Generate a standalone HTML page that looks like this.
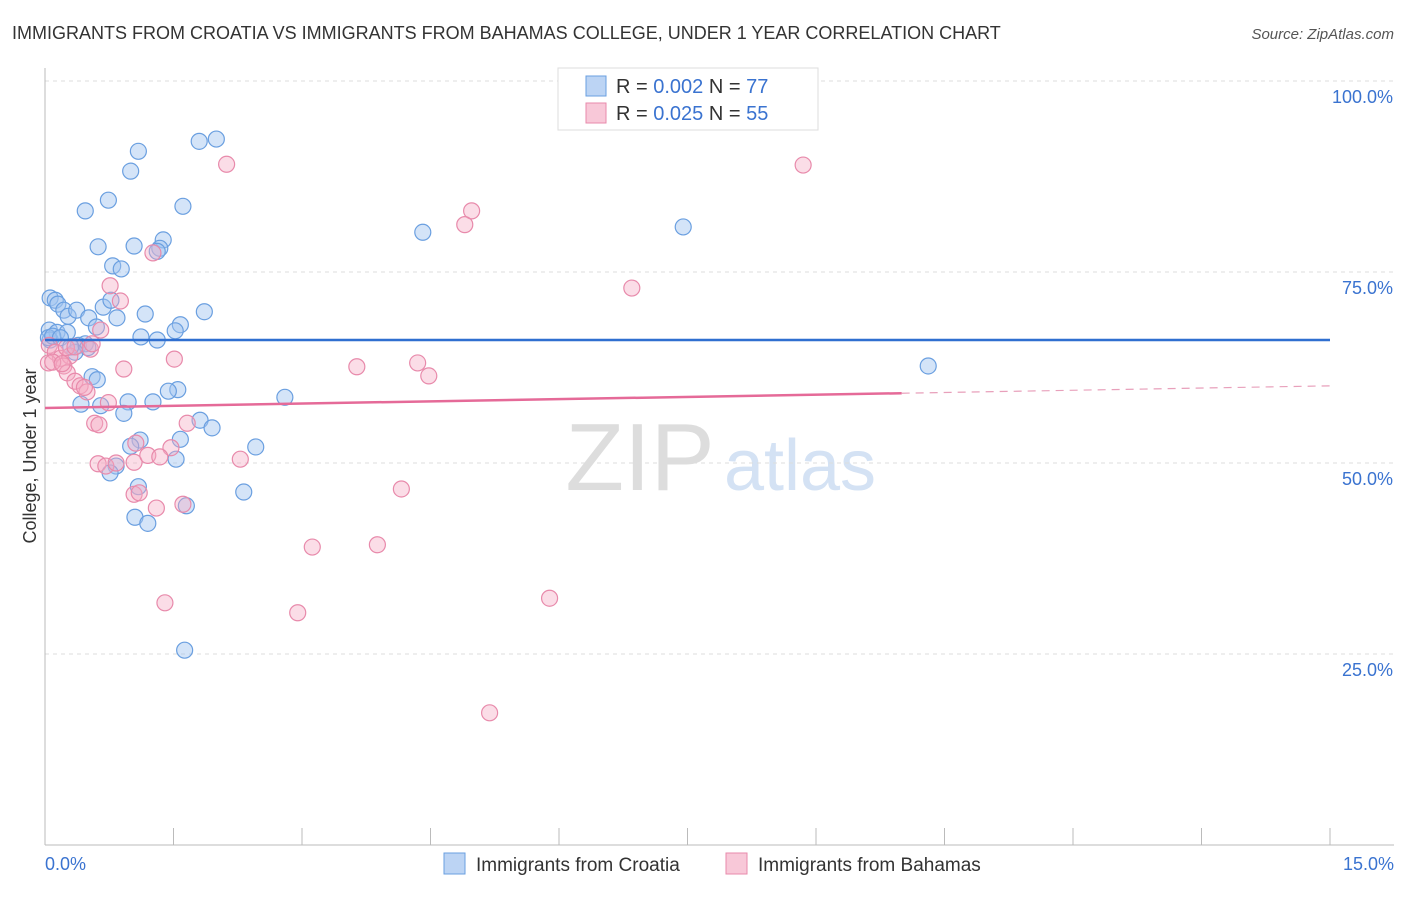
<!DOCTYPE html>
<html><head><meta charset="utf-8">
<style>
body{margin:0;background:#fff;font-family:"Liberation Sans",sans-serif;}
svg text{font-family:"Liberation Sans",sans-serif;}
</style></head>
<body>
<svg width="1406" height="892" xmlns="http://www.w3.org/2000/svg">
<text x="12" y="39" font-size="18" fill="#333">IMMIGRANTS FROM CROATIA VS IMMIGRANTS FROM BAHAMAS COLLEGE, UNDER 1 YEAR CORRELATION CHART</text>
<text x="1394" y="39" font-size="15" fill="#555" font-style="italic" text-anchor="end">Source: ZipAtlas.com</text>
<text x="640" y="490" font-size="96" fill="#ddd" font-family="Liberation Serif" text-anchor="middle">ZIP</text>
<text x="800" y="490" font-size="72" fill="#d4e2f4" text-anchor="middle">atlas</text>
<g id="grid"></g>
<g id="axes"></g>
<g id="points"></g>
<g id="lines"></g>
<text x="36" y="456" font-size="18" fill="#333" text-anchor="middle" transform="rotate(-90 36 456)">College, Under 1 year</text>
<text x="45" y="870" font-size="18" fill="#3a73d0">0.0%</text>
<text x="1394" y="870" font-size="18" fill="#3a73d0" text-anchor="end">15.0%</text>
<g>
<rect x="558" y="68" width="260" height="62" fill="#fff" stroke="#ddd"/>
<rect x="586" y="76" width="20" height="20" fill="#bcd4f4" stroke="#6a9fe0"/>
<text x="616" y="93" font-size="20" fill="#333">R = <tspan fill="#3a73d0">0.002</tspan>   N = <tspan fill="#3a73d0">77</tspan></text>
<rect x="586" y="103" width="20" height="20" fill="#f8c8d8" stroke="#e88aab"/>
<text x="616" y="120" font-size="20" fill="#333">R = <tspan fill="#3a73d0">0.025</tspan>   N = <tspan fill="#3a73d0">55</tspan></text>
</g>
<g>
<rect x="444" y="853" width="21" height="21" fill="#bcd4f4" stroke="#6a9fe0"/>
<text x="476" y="871" font-size="19" fill="#333">Immigrants from Croatia</text>
<rect x="726" y="853" width="21" height="21" fill="#f8c8d8" stroke="#e88aab"/>
<text x="758" y="871" font-size="19" fill="#333">Immigrants from Bahamas</text>
</g>
</svg>
<script>
const yTicks=[100,75,50,25];
const yTickLabels=["100.0%","75.0%","50.0%","25.0%"];
const xTicks=[0,1.5,3,4.5,6,7.5,9,10.5,12,13.5,15];
const croatiaX=[1.09,1.00,0.74,0.47,1.80,2.00,1.61,0.62,1.04,1.38,1.34,1.31,0.79,0.89,4.41,7.45,0.06,0.12,0.15,0.22,0.27,0.37,0.68,0.77,1.17,1.86,1.58,1.52,0.51,0.60,0.05,0.14,0.26,0.84,1.12,1.31,0.06,0.39,0.47,0.50,0.35,0.55,0.61,1.55,1.44,1.26,0.97,0.42,0.65,0.92,1.81,1.95,1.58,1.11,1.00,2.46,1.53,0.83,0.76,2.80,2.32,1.09,1.05,1.20,1.65,1.63,10.31,0.04,0.09,0.18,0.30];
const croatiaY=[90.8,88.2,84.4,83.0,92.1,92.4,83.6,78.3,78.4,79.2,78.1,77.7,75.8,75.4,80.2,80.9,71.6,71.3,70.8,70.0,69.2,70.0,70.4,71.3,69.5,69.8,68.1,67.3,69.0,67.8,67.4,67.1,67.1,69.0,66.5,66.1,66.1,65.4,65.6,65.1,64.5,61.3,60.9,59.6,59.4,58.0,58.0,57.7,57.5,56.5,55.6,54.6,53.1,53.0,52.2,52.1,50.5,49.6,48.7,58.6,46.2,46.9,42.9,42.1,44.4,25.5,62.7,66.4,66.6,66.4,65.2];
const bahamasX=[2.12,8.85,4.98,4.90,6.85,1.26,0.76,0.88,0.65,0.05,0.12,0.18,0.29,0.53,0.22,0.26,0.35,0.41,0.49,0.92,1.51,3.64,4.35,4.48,0.74,0.58,0.63,1.06,1.47,1.66,0.62,0.71,0.83,1.04,1.20,1.34,2.28,1.04,1.10,1.30,1.61,4.16,3.12,3.88,2.95,5.89,1.40,5.19,0.04,0.09,0.20,0.46,0.25,0.35,0.55];
const bahamasY=[89.1,89.0,83.0,81.2,72.9,77.5,73.2,71.2,67.4,65.4,64.5,63.7,64.0,64.9,62.7,61.8,60.7,60.1,59.3,62.3,63.6,62.6,63.1,61.4,57.9,55.2,55.0,52.6,52.0,55.2,49.9,49.6,50.0,50.1,51.0,50.8,50.5,45.9,46.1,44.1,44.6,46.6,39.0,39.3,30.4,32.3,31.7,17.3,63.1,63.2,63.0,59.9,65.1,65.2,65.6];
const croatiaTrend=[66.1,66.1];
const bahamasTrend=[57.2,60.1];
const bahamasSolidEnd=10.0;

const NS="http://www.w3.org/2000/svg";
const sx=v=>45+v/15*1285;
const sy=v=>845-v/100*764;
function mk(tag,attrs,parent){const e=document.createElementNS(NS,tag);for(const k in attrs)e.setAttribute(k,attrs[k]);parent.appendChild(e);return e;}
const grid=document.getElementById('grid'),axes=document.getElementById('axes'),pts=document.getElementById('points'),lines=document.getElementById('lines');
yTicks.forEach((t,i)=>{
  const l=mk('line',{x1:45,x2:1394,y1:sy(t),y2:sy(t),stroke:'#ddd','stroke-dasharray':'4,4'},grid);
  
  
  const tx=mk('text',{x:1393,y:sy(t)+22,'font-size':18,fill:'#3a73d0','text-anchor':'end'},grid);
  tx.textContent=yTickLabels[i];
  
  
});
const ya=mk('line',{x1:45,x2:45,y1:68,y2:845,stroke:'#bbb'},axes);


const xa=mk('line',{x1:45,x2:1394,y1:845,y2:845,stroke:'#bbb'},axes);


xTicks.forEach(t=>{
  const l=mk('line',{x1:sx(t),x2:sx(t),y1:828,y2:845,stroke:'#bbb'},axes);
  
  
});
croatiaX.forEach((x,i)=>{
  const c=mk('circle',{cx:sx(x),cy:sy(croatiaY[i]),r:8,fill:'rgba(160,196,240,0.45)',stroke:'#6a9fe0','stroke-width':1.2},pts);
  
  
});
bahamasX.forEach((x,i)=>{
  const c=mk('circle',{cx:sx(x),cy:sy(bahamasY[i]),r:8,fill:'rgba(245,170,195,0.4)',stroke:'#e88aab','stroke-width':1.2},pts);
  
  
});
const bl=mk('line',{x1:sx(0),x2:sx(15),y1:sy(croatiaTrend[0]),y2:sy(croatiaTrend[1]),stroke:'#2f6fd0','stroke-width':2.5},lines);


const yAt=x=>bahamasTrend[0]+(bahamasTrend[1]-bahamasTrend[0])*x/15;
const pl=mk('line',{x1:sx(0),x2:sx(bahamasSolidEnd),y1:sy(yAt(0)),y2:sy(yAt(bahamasSolidEnd)),stroke:'#e56a98','stroke-width':2.5},lines);


const pd=mk('line',{x1:sx(bahamasSolidEnd),x2:sx(15),y1:sy(yAt(bahamasSolidEnd)),y2:sy(yAt(15)),stroke:'#e8a0bb','stroke-width':1.2,'stroke-dasharray':'8,6'},lines);


</script>
</body></html>
